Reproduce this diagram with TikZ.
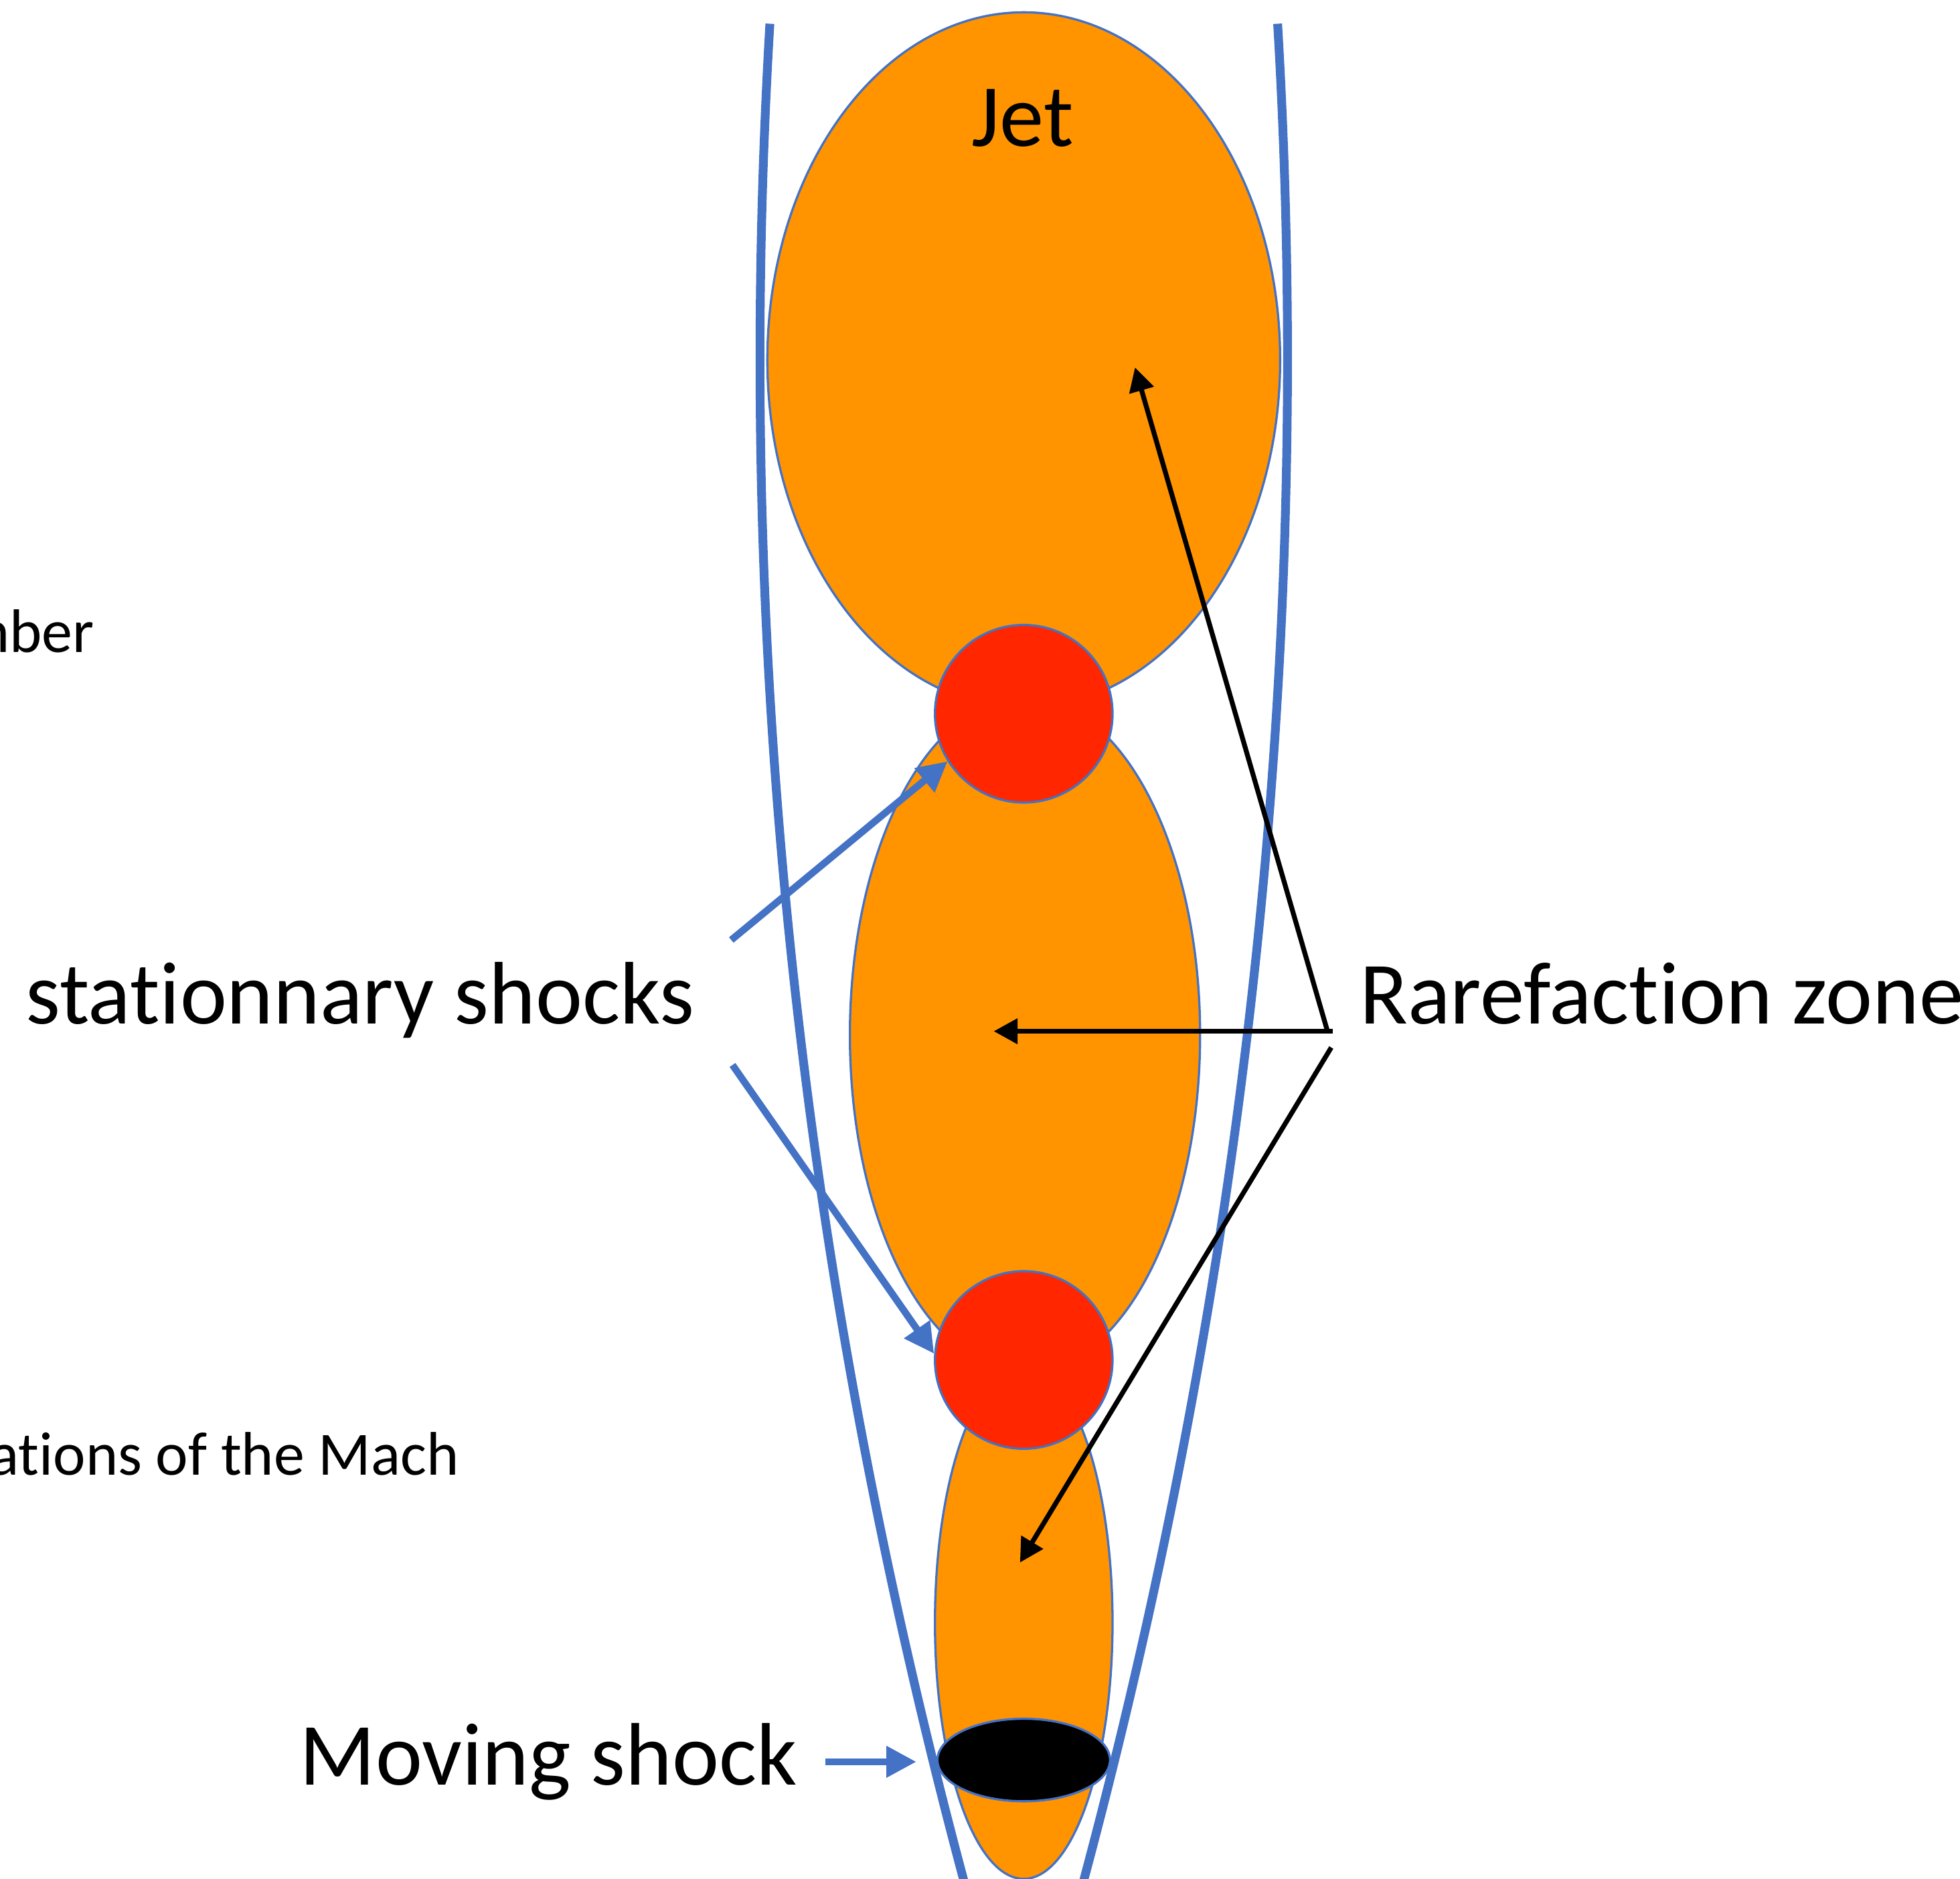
\documentclass[tikz,border=0pt]{standalone}
\usepackage{fontspec}
\setmainfont{Carlito}[Ligatures={NoCommon}]
\usepackage{tikz}
\usetikzlibrary{arrows.meta, shapes.geometric, calc}
\definecolor{jetorange}{RGB}{255, 147, 0}
\definecolor{shockred}{RGB}{255, 38, 0}
\definecolor{inkblue}{RGB}{68, 114, 196}
\tikzset{
    cell/.style  ={ellipse, draw=inkblue, line width=0.5pt, fill=jetorange, inner sep=0pt},
    shock/.style ={circle, draw=inkblue, line width=0.5pt, fill=shockred,
                   inner sep=0pt, minimum size=1.42cm},
    mshk/.style  ={ellipse, draw=inkblue, line width=0.5pt, fill=black, inner sep=0pt},
    bnd/.style   ={draw=inkblue, line width=2pt},
    ar/.style    ={-{Triangle[length=6.8pt, width=6.8pt]}, line width=1.6pt, draw=inkblue},
    arb/.style   ={-{Triangle[length=5.4pt, width=5.6pt]}, line width=1.1pt, draw=black},
    lbl/.style   ={inner sep=0pt, font=\fontsize{20.2}{24}\selectfont},
    lblsm/.style ={inner sep=0pt, font=\fontsize{14}{17}\selectfont}
}

\begin{document}
\begin{tikzpicture}[x=0.01cm, y=-0.01cm]
  \useasboundingbox (0,0) rectangle (1568,1503);

  % jet cells
  \node[cell, minimum width=4.10cm, minimum height=5.56cm] (cellA) at (819,288) {};
  \node[cell, minimum width=2.80cm, minimum height=5.40cm] (cellB) at (820,828) {};
  \node[cell, minimum width=1.42cm, minimum height=4.10cm] (cellC) at (819,1298) {};
  \node[lbl, anchor=base] (jet) at (818,117) {Jet};

  % shocks
  \node[shock] (shockA) at (819,571) {};
  \node[shock] (shockB) at (819,1088) {};
  \node[mshk, minimum width=1.38cm, minimum height=0.66cm] (mshock) at (819,1408) {};

  % jet boundary (parabola, widest near y=287)
  \draw[bnd] plot[domain=19:1515, samples=80, smooth]
    ({608+1.1*((\x-287)/100)^2}, \x);
  \draw[bnd] plot[domain=19:1515, samples=80, smooth]
    ({1030-1.1*((\x-287)/100)^2}, \x);

  % labels
  \node[lbl, anchor=base west] (st) at (20,819) {stationnary shocks};
  \node[lbl, anchor=base west] (rf) at (1087,819) {Rarefaction zone};
  \node[lbl, anchor=base west] (mv) at (239,1428) {Moving shock};
  \node[lblsm, anchor=base east] (num) at (76,522) {mber};
  \node[lblsm, anchor=base east] (mach) at (368,1180) {ations of the Mach};

  % stationary shock pointers
  \coordinate (st-a) at (585,752);
  \coordinate (st-b) at (586,852);
  \draw[ar] (st-a) -- (shockA.212);
  \draw[ar] (st-b) -- (shockB.176);
  \coordinate (mv-end) at ([xshift=-0.16cm]mshock.west);
  \draw[ar] ([xshift=0.22cm]mv.east) -- (mv-end |- mv.east);

  % rarefaction pointers
  \coordinate (rf-a) at (1062,825);
  \coordinate (rf-b) at (1066,825);
  \coordinate (rf-c) at (1065,838);
  \draw[arb] (rf-a) -- ($(cellA)+(89,6)$);
  \draw[arb] (rf-b) -- ($(cellB)+(-25,-3)$);
  \draw[arb] (rf-c) -- ($(cellC)+(-3,-48)$);
\end{tikzpicture}
\end{document}
